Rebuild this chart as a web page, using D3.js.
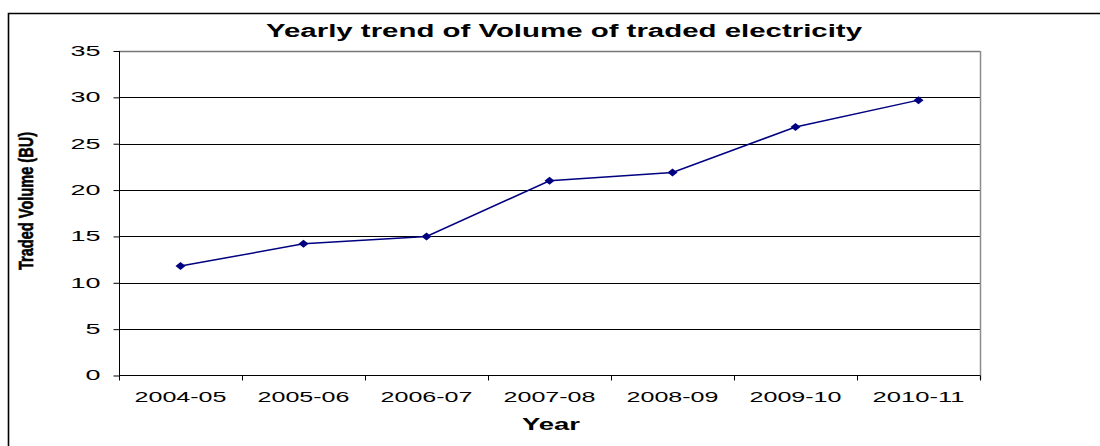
<!DOCTYPE html>
<html>
<head>
<meta charset="utf-8">
<script src="https://cdn.jsdelivr.net/npm/d3@7"></script>
<style>
  body { margin: 0; background: #fff; }
  svg { display: block; font-family: "Liberation Sans", Arial, sans-serif; }
</style>
</head>
<body>
<svg id="chart" width="1100" height="446"></svg>
<script>
// data
var years = ["2004-05", "2005-06", "2006-07", "2007-08", "2008-09", "2009-10", "2010-11"];
var volume = [11.8, 14.2, 15.0, 21.0, 21.9, 26.8, 29.7];
var yTicks = [0, 5, 10, 15, 20, 25, 30, 35];

var svg = d3.select("#chart");

// plot area edges
var plotLeft = 119, plotRight = 980, plotTop = 51, plotBottom = 375.5;

var x = d3.scaleBand().domain(years).range([plotLeft, plotRight]).padding(0);
var y = d3.scaleLinear().domain([0, 35]).range([plotBottom, plotTop]);

// outer chart frame (runs off the page on the right and bottom)
svg.append("path")
    .attr("d", "M8.5,460 V13.5 H1110")
    .attr("fill", "none")
    .attr("stroke", "#000")
    .attr("stroke-width", 1.6);

// gridlines
svg.append("g")
    .selectAll("line")
    .data(yTicks.filter(function (d) { return d > 0; }))
    .join("line")
      .attr("x1", plotLeft)
      .attr("x2", plotRight)
      .attr("y1", function (d) { return Math.round(y(d)) + 0.5; })
      .attr("y2", function (d) { return Math.round(y(d)) + 0.5; })
      .attr("stroke", function (d) { return d === 35 ? "#777" : "#000"; })
      .attr("stroke-width", function (d) { return d === 35 ? 1.5 : 1; });

// right edge of plot area
svg.append("line")
    .attr("x1", plotRight + 0.5).attr("x2", plotRight + 0.5)
    .attr("y1", plotTop).attr("y2", plotBottom + 4)
    .attr("stroke", "#8c8c8c")
    .attr("stroke-width", 1.5);

// y axis
var yAxis = svg.append("g")
    .attr("transform", "translate(" + (plotLeft + 0.5) + ",0)")
    .call(d3.axisLeft(y).tickValues(yTicks).tickSize(6).tickPadding(13));
yAxis.select(".domain").attr("stroke", "#000").attr("d", "M0," + plotTop + "V" + (plotBottom + 5));
yAxis.selectAll(".tick line").attr("stroke", "#000");
yAxis.selectAll(".tick text")
    .attr("font-family", "Liberation Sans, Arial, sans-serif")
    .attr("font-size", 14)
    .attr("fill", "#000")
    .attr("textLength", function (d) { return String(d).length * 15; })
    .attr("lengthAdjust", "spacingAndGlyphs");

// x axis: line, boundary ticks, labels
var xg = svg.append("g");
xg.append("line")
    .attr("x1", plotLeft).attr("x2", plotRight)
    .attr("y1", plotBottom).attr("y2", plotBottom)
    .attr("stroke", "#000");
xg.selectAll("line.tk")
    .data(years.slice(1).map(function (d) { return x(d); }).concat([plotRight]))
    .join("line")
      .attr("class", "tk")
      .attr("x1", function (d) { return Math.round(d) + 0.5; })
      .attr("x2", function (d) { return Math.round(d) + 0.5; })
      .attr("y1", plotBottom)
      .attr("y2", plotBottom + 5)
      .attr("stroke", "#000");
xg.selectAll("text")
    .data(years)
    .join("text")
      .attr("x", function (d) { return x(d) + x.bandwidth() / 2; })
      .attr("y", 402)
      .attr("text-anchor", "middle")
      .attr("font-size", 15)
      .attr("textLength", 92)
      .attr("lengthAdjust", "spacingAndGlyphs")
      .text(function (d) { return d; });

// titles
svg.append("text")
    .attr("x", 564)
    .attr("y", 37)
    .attr("text-anchor", "middle")
    .attr("font-size", 18)
    .attr("font-weight", "bold")
    .attr("textLength", 596)
    .attr("lengthAdjust", "spacingAndGlyphs")
    .text("Yearly trend of Volume of traded electricity");

svg.append("text")
    .attr("x", 551)
    .attr("y", 430)
    .attr("text-anchor", "middle")
    .attr("font-size", 16)
    .attr("font-weight", "bold")
    .attr("textLength", 58)
    .attr("lengthAdjust", "spacingAndGlyphs")
    .text("Year");

svg.append("text")
    .attr("transform", "translate(33,201) rotate(-90)")
    .attr("text-anchor", "middle")
    .attr("font-size", 20)
    .attr("font-weight", "bold")
    .attr("stroke", "#000")
    .attr("stroke-width", 0.6)
    .attr("textLength", 138)
    .attr("lengthAdjust", "spacingAndGlyphs")
    .text("Traded Volume (BU)");

// series
var line = d3.line()
    .x(function (d, i) { return x(years[i]) + x.bandwidth() / 2; })
    .y(function (d) { return y(d); });

svg.append("path")
    .datum(volume)
    .attr("d", line)
    .attr("fill", "none")
    .attr("stroke", "#000080")
    .attr("stroke-width", 1.5);

svg.append("g")
    .selectAll("path")
    .data(volume)
    .join("path")
      .attr("transform", function (d, i) {
        return "translate(" + (x(years[i]) + x.bandwidth() / 2) + "," + y(d) + ")";
      })
      .attr("d", "M0,-4 L5,0 L0,4 L-5,0 Z")
      .attr("fill", "#000080");
</script>
</body>
</html>
